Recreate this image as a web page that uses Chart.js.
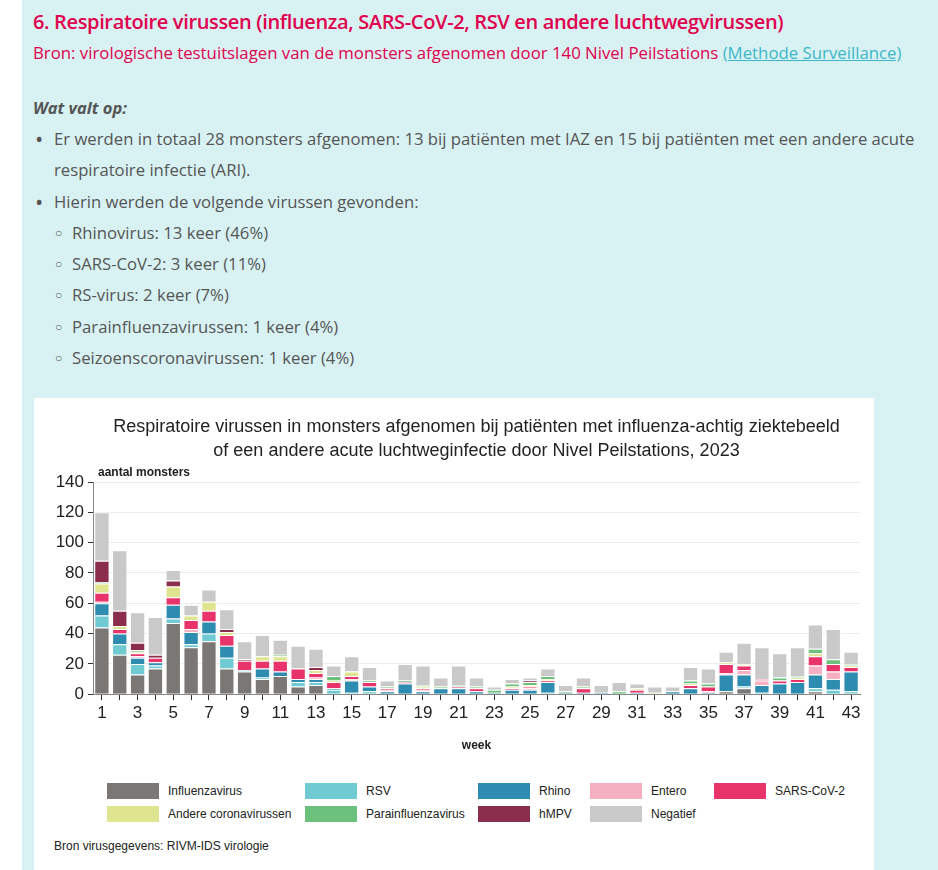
<!DOCTYPE html>
<html lang="nl">
<head>
<meta charset="utf-8">
<script src="https://cdn.jsdelivr.net/npm/chart.js@4.4.0/dist/chart.umd.min.js"></script>
<style>
    body { margin: 0; background: #fff; font-family: 'Open Sans', sans-serif; }
    .page { position: absolute; left: 22px; top: 0; width: 916px; height: 870px; background: #d8f2f3; overflow: hidden; }
    .h1 { position: absolute; left: 11px; top: 9px; font-size: 20px; font-weight: 600; color: #e0004d; line-height: 26px; white-space: nowrap; letter-spacing: -0.35px; }
    .bron { position: absolute; left: 11px; top: 42px; font-size: 16.8px; color: #e0004d; line-height: 22px; white-space: nowrap; }
    .bron a { color: #3db6c8; }
    .wat { position: absolute; left: 11px; top: 97px; font-size: 16.5px; font-weight: 700; font-style: italic; color: #555; line-height: 22px; }
    .list { position: absolute; left: 0; top: 123px; font-size: 16.7px; color: #555; line-height: 31.3px; white-space: nowrap; }
    .li { position: relative; padding-left: 32px; }
    .li.sub { padding-left: 50px; }
    .li::before { content: '\2022'; position: absolute; left: 13px; top: 0; color: #555; font-size: 22px; }
    .li.sub::before { content: '\25CB'; left: 33px; font-size: 12px; }
    .li.cont::before { content: ''; }
    .card { position: absolute; left: 12px; top: 398px; width: 840px; height: 480px; background: #fff; }
    .chartbox { position: absolute; left: 0; top: 0; width: 840px; height: 365px; }
    .legend { position: absolute; left: 0; top: 0; font-family: 'Liberation Sans', Arial, sans-serif; font-size: 12px; color: #222; }
    .item { position: absolute; height: 16px; white-space: nowrap; }
    .item span.sw { position: absolute; left: 0; top: 0; width: 52px; height: 16px; }
    .item span.tx { position: absolute; left: 61px; top: 1px; line-height: 14px; }
    .source { position: absolute; left: 20px; top: 441px; font-family: 'Liberation Sans', Arial, sans-serif; font-size: 12px; color: #222; }
</style>
</head>
<body>
<div class="page">
    <div class="h1">6. Respiratoire virussen (influenza, SARS-CoV-2, RSV en andere luchtwegvirussen)</div>
    <div class="bron">Bron: virologische testuitslagen van de monsters afgenomen door 140 Nivel Peilstations <a href="#">(Methode Surveillance)</a></div>
    <div class="wat">Wat valt op:</div>
    <div class="list">
        <div class="li">Er werden in totaal 28 monsters afgenomen: 13 bij patiënten met IAZ en 15 bij patiënten met een andere acute</div>
        <div class="li cont">respiratoire infectie (ARI).</div>
        <div class="li">Hierin werden de volgende virussen gevonden:</div>
        <div class="li sub">Rhinovirus: 13 keer (46%)</div>
        <div class="li sub">SARS-CoV-2: 3 keer (11%)</div>
        <div class="li sub">RS-virus: 2 keer (7%)</div>
        <div class="li sub">Parainfluenzavirussen: 1 keer (4%)</div>
        <div class="li sub">Seizoenscoronavirussen: 1 keer (4%)</div>
    </div>
    <div class="card">
        <div class="chartbox"><canvas id="chart"></canvas></div>
        <div class="legend" id="legend"></div>
        <div class="source">Bron virusgegevens: RIVM-IDS virologie</div>
    </div>
</div>

<script>
const weeks = [];
for (let w = 1; w <= 43; w++) weeks.push(String(w));

const titleLines = [
    'Respiratoire virussen in monsters afgenomen bij patiënten met influenza-achtig ziektebeeld',
    'of een andere acute luchtweginfectie door Nivel Peilstations, 2023'
];
const yTicks = [0, 20, 40, 60, 80, 100, 120, 140];

const seriesNames = ['Influenzavirus', 'RSV', 'Rhino', 'Entero', 'SARS-CoV-2',
    'Andere coronavirussen', 'Parainfluenzavirus', 'hMPV', 'Negatief'];
const seriesColors = ['#7a7774', '#6fcad2', '#2f8cb1', '#f5b0c2', '#e8336b',
    '#dfe58e', '#6bc07b', '#8b2d4c', '#c9c9c9'];

// weeks 1..43
const influenza = [44,26,13,17,47,31,35,17,15,10,12,5,6,0,0,0,0,0,0,0,0,0,0,0,0,0,0,0,0,0,0,0,0,0,0,2,4,0,0,0,2,0,0];
const rsv       = [8,7,7,2,3,2,5,7,1,1,0,3,2,3,1,2,0,0,0,0,0,0,0,0,0,1,0,0,0,0,0,0,0,0,0,0,1,1,0,0,2,3,2];
const rhino     = [8,7,4,2,9,8,8,8,0,6,3,2,2,1,8,3,2,7,2,4,4,2,1,3,3,7,1,1,1,0,1,0,2,4,1,11,8,5,7,8,9,7,13];
const entero    = [1,0,1,0,0,2,0,0,0,0,0,0,1,0,1,0,1,0,1,0,0,0,0,0,1,0,0,0,0,0,0,0,0,0,1,1,3,3,0,0,6,5,0];
const sarsCov2  = [6,3,2,3,5,6,7,7,6,5,7,7,3,4,2,3,1,1,1,0,1,2,0,1,1,1,0,3,0,0,2,0,0,2,3,6,3,1,2,2,6,5,3];
const andereCov = [6,2,1,0,7,3,6,2,0,3,3,0,2,1,3,0,0,0,1,0,0,0,0,1,1,1,0,0,0,0,1,1,0,1,0,1,1,0,0,1,2,0,1];
const parainfl  = [1,0,1,0,0,0,0,0,0,0,1,0,0,3,0,1,1,1,1,1,1,1,2,2,2,2,1,1,0,2,0,0,0,2,2,0,0,0,2,1,3,3,1];
const hmpv      = [14,10,5,2,4,0,0,2,1,0,0,0,2,0,0,0,0,0,0,0,0,0,0,0,1,0,0,0,0,0,0,0,0,0,0,0,0,0,0,0,0,0,0];
const negatief  = [32,40,20,25,7,7,8,13,12,14,10,15,12,7,10,9,4,11,13,6,13,6,2,3,2,5,4,6,5,6,3,4,3,9,10,7,14,21,16,19,16,20,8];

const seriesValues = [influenza, rsv, rhino, entero, sarsCov2, andereCov, parainfl, hmpv, negatief];

const FONT = "'Liberation Sans', Arial, sans-serif";

const titlePlugin = {
    id: 'topTexts',
    afterDraw(chart) {
        const ctx = chart.ctx;
        const area = chart.chartArea;
        ctx.save();
        ctx.fillStyle = '#222';
        ctx.textAlign = 'center';
        ctx.textBaseline = 'middle';
        ctx.font = '18px ' + FONT;
        const cx = (area.left + area.right) / 2;
        ctx.fillText(titleLines[0], cx, 29);
        ctx.fillText(titleLines[1], cx, 53);
        ctx.textAlign = 'left';
        ctx.font = 'bold 12px ' + FONT;
        ctx.fillText('aantal monsters', area.left + 5, area.top - 9);
        ctx.restore();
    }
};

function initChart() {
    const datasets = seriesNames.map((name, i) => ({
        label: name,
        data: seriesValues[i],
        backgroundColor: seriesColors[i],
        borderColor: 'rgba(255,255,255,0.55)',
        borderWidth: 1,
        barPercentage: 0.86,
        categoryPercentage: 1
    }));

    const options = {
        responsive: true,
        maintainAspectRatio: false,
        animation: false,
        layout: { padding: { top: 84, right: 14, left: 0, bottom: 10 } },
        plugins: {
            legend: { display: false },
            tooltip: { enabled: false }
        },
        scales: {
            x: {
                stacked: true,
                grid: {
                    offset: false,
                    drawOnChartArea: false,
                    drawTicks: true,
                    tickLength: 6,
                    tickColor: '#333'
                },
                border: { color: '#888' },
                ticks: {
                    autoSkip: false,
                    maxRotation: 0,
                    padding: 3,
                    color: '#222',
                    font: { size: 17, family: FONT },
                    callback: function(value, index) {
                        return index % 2 === 0 ? weeks[index] : '';
                    }
                },
                title: {
                    display: true,
                    text: 'week',
                    color: '#222',
                    font: { size: 12, weight: 'bold', family: FONT },
                    padding: { top: 12, bottom: 0 }
                }
            },
            y: {
                stacked: true,
                min: yTicks[0],
                max: yTicks[yTicks.length - 1],
                afterFit: function(scale) { scale.width = 59; },
                grid: {
                    color: '#e8eeee',
                    tickColor: '#333',
                    tickLength: 5
                },
                border: { color: '#888' },
                ticks: {
                    stepSize: 20,
                    padding: 4,
                    color: '#222',
                    font: { size: 17, family: FONT }
                }
            }
        }
    };

    const ctx = document.getElementById('chart').getContext('2d');
    const chart = new Chart(ctx, {
        type: 'bar',
        data: { labels: weeks, datasets: datasets },
        options: options,
        plugins: [titlePlugin]
    });

    buildLegend(chart);
}

function buildLegend(chart) {
    const cols = [73, 271, 444, 556, 680];
    const rows = [385, 408];
    const box = document.getElementById('legend');
    chart.data.datasets.forEach((ds, i) => {
        const el = document.createElement('div');
        el.className = 'item';
        el.style.left = cols[i % 5] + 'px';
        el.style.top = rows[Math.floor(i / 5)] + 'px';
        el.innerHTML = '<span class="sw" style="background:' + ds.backgroundColor + '"></span><span class="tx">' + ds.label + '</span>';
        box.appendChild(el);
    });
}

document.addEventListener('DOMContentLoaded', function() {
    initChart();
});
</script>
</body>
</html>
